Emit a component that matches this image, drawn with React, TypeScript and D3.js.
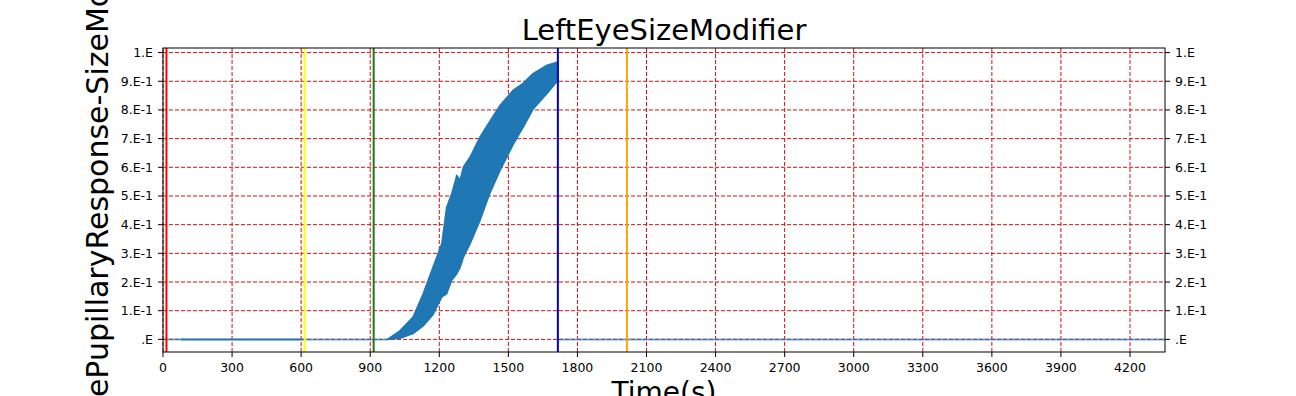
import { area, line, scaleLinear } from 'd3';

// time (s) and LeftEyeSizeModifier envelope
const bandTime = [975, 1030, 1086, 1130, 1173, 1211, 1232, 1254, 1276, 1290, 1305, 1334, 1377, 1420, 1464, 1520, 1564, 1607, 1668, 1715];
const bandUpper = [0.0, 0.031, 0.078, 0.159, 0.252, 0.334, 0.461, 0.508, 0.572, 0.555, 0.601, 0.636, 0.706, 0.761, 0.816, 0.868, 0.893, 0.927, 0.956, 0.967];
const bandLower = [0.0, 0.004, 0.02, 0.047, 0.087, 0.148, 0.159, 0.206, 0.229, 0.25, 0.287, 0.334, 0.415, 0.51, 0.589, 0.678, 0.739, 0.802, 0.857, 0.903];

// flat stretches of the trace at 0
const flatSolid = [[75, 615]];
const flatFaint = [[0, 75], [615, 975], [1715, 4352]];

// event markers (s)
const eventTimes = [15, 615, 915, 1715, 2015];
const eventColors = ['#ff0000', '#ffff00', '#1a7a1a', '#0000c8', '#ffa500'];

const xTicks = [0, 300, 600, 900, 1200, 1500, 1800, 2100, 2400, 2700, 3000, 3300, 3600, 3900, 4200];
const yTicks = [0, 0.1, 0.2, 0.3, 0.4, 0.5, 0.6, 0.7, 0.8, 0.9, 1.0];
const yTickLabels = ['.E', '1.E-1', '2.E-1', '3.E-1', '4.E-1', '5.E-1', '6.E-1', '7.E-1', '8.E-1', '9.E-1', '1.E'];

const width = 1296;
const height = 396;
const plot = { left: 163, right: 1165, top: 48, bottom: 352 };
const font = "'DejaVu Sans', sans-serif";

export default function App() {
  const x = scaleLinear().domain([0, 4352]).range([plot.left, plot.right]);
  const y = scaleLinear().domain([-0.044, 1.016]).range([plot.bottom, plot.top]);

  const band = area<number>()
    .x(i => x(bandTime[i]))
    .y0(i => y(bandLower[i]))
    .y1(i => y(bandUpper[i]))(bandTime.map((_, i) => i));

  const flatPath = (span: number[]) => line<number>().x(t => x(t)).y(() => y(0))(span);

  return (
    <div style={{ position: 'fixed', left: 0, top: 0 }}>
      <svg width={width} height={height} viewBox={`0 0 ${width} ${height}`} style={{ display: 'block', background: '#fff' }} fontFamily={font}>
        <defs>
          <clipPath id="plot-clip">
            <rect x={plot.left} y={plot.top} width={plot.right - plot.left} height={plot.bottom - plot.top} />
          </clipPath>
        </defs>

        {/* grid */}
        {xTicks.map(t => (
          <line key={`gx${t}`} x1={x(t)} x2={x(t)} y1={plot.top} y2={plot.bottom} stroke="#cc1010" strokeWidth={1} strokeDasharray="4 2" />
        ))}
        {yTicks.map(t => (
          <line key={`gy${t}`} x1={plot.left} x2={plot.right} y1={y(t)} y2={y(t)} stroke="#cc1010" strokeWidth={1} strokeDasharray="4 2" />
        ))}

        <g clipPath="url(#plot-clip)">
          {flatFaint.map((s, i) => (
            <path key={`ff${i}`} d={flatPath(s) ?? ''} fill="none" stroke="#1f77b4" strokeOpacity={0.6} strokeWidth={2} />
          ))}
          {flatSolid.map((s, i) => (
            <path key={`fs${i}`} d={flatPath(s) ?? ''} fill="none" stroke="#1f77b4" strokeWidth={2} />
          ))}
          {band && <path d={band} fill="#1f77b4" stroke="#1f77b4" strokeWidth={1.5} strokeLinejoin="round" />}

          {eventTimes.map((t, i) => (
            <line key={`ev${t}`} x1={x(t)} x2={x(t)} y1={plot.top} y2={plot.bottom} stroke={eventColors[i]} strokeWidth={2} />
          ))}
        </g>

        {/* frame */}
        <rect x={plot.left} y={plot.top} width={plot.right - plot.left} height={plot.bottom - plot.top} fill="none" stroke="#000" strokeWidth={1} />

        {/* x axis */}
        {xTicks.map(t => (
          <g key={`xt${t}`}>
            <line x1={x(t)} x2={x(t)} y1={plot.bottom} y2={plot.bottom + 5} stroke="#000" />
            <text x={x(t)} y={plot.bottom + 10} dy="0.76em" textAnchor="middle" fontSize={12.5} fill="#000">{t}</text>
          </g>
        ))}

        {/* y axes, both sides */}
        {yTicks.map((t, i) => (
          <g key={`yt${t}`}>
            <line x1={plot.left - 5} x2={plot.left} y1={y(t)} y2={y(t)} stroke="#000" />
            <line x1={plot.right} x2={plot.right + 5} y1={y(t)} y2={y(t)} stroke="#000" />
            <text x={plot.left - 10} y={y(t)} dy="0.36em" textAnchor="end" fontSize={12.5} fill="#000">{yTickLabels[i]}</text>
            <text x={plot.right + 10} y={y(t)} dy="0.36em" textAnchor="start" fontSize={12.5} fill="#000">{yTickLabels[i]}</text>
          </g>
        ))}

        <text x={(plot.left + plot.right) / 2} y={40} textAnchor="middle" fontSize={29} fill="#000">LeftEyeSizeModifier</text>
        <text x={(plot.left + plot.right) / 2} y={402} textAnchor="middle" fontSize={28} fill="#000">Time(s)</text>
        <text transform={`translate(108, ${(plot.top + plot.bottom) / 2 + 1}) rotate(-90)`} textAnchor="middle" fontSize={30} fill="#000">LeftEyePupillaryResponse-SizeModifier</text>
      </svg>
    </div>
  );
}
